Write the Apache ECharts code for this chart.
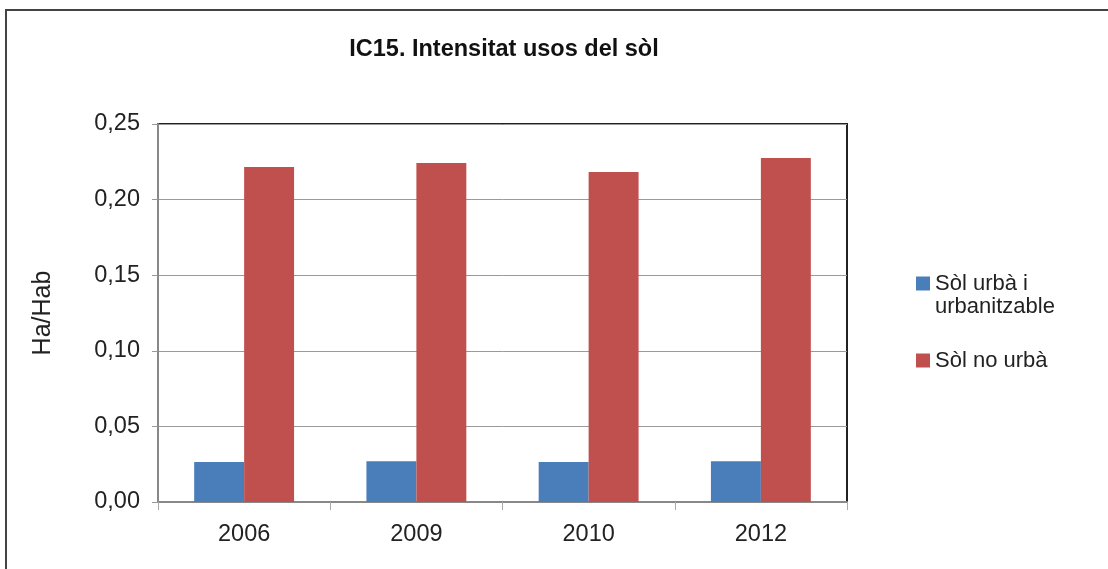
<!DOCTYPE html>
<html>
<head>
<meta charset="utf-8">
<script src="https://cdn.jsdelivr.net/npm/echarts@6/dist/echarts.min.js"></script>
<style>
  html, body { margin: 0; padding: 0; background: #fff; }
  #frame {
    position: absolute; left: 5px; top: 9px; width: 1120px; height: 580px;
    border: 2px solid #444; box-sizing: border-box;
  }
  #chart { position: absolute; left: 0; top: 0; width: 1108px; height: 569px; }
</style>
</head>
<body>
<div id="frame"></div>
<div id="chart"></div>
<script>
// dades
const years = ["2006", "2009", "2010", "2012"];
const urba = [0.0265, 0.027, 0.0265, 0.027];
const noUrba = [0.2216, 0.2242, 0.2183, 0.2275];
const urbaName = "Sòl urbà i\nurbanitzable";
const noUrbaName = "Sòl no urbà";

const chart = echarts.init(document.getElementById("chart"));
const font = "Liberation Sans, Arial, sans-serif";
const legendText = { fontSize: 22, color: "#222", lineHeight: 23 };

chart.setOption({
  animation: false,
  textStyle: { fontFamily: font },
  title: {
    text: "IC15. Intensitat usos del sòl",
    left: 499,
    top: 33,
    textAlign: "center",
    textStyle: { fontSize: 23.5, fontWeight: "bold", color: "#111", fontFamily: font },
  },
  legend: [
    {
      left: 916,
      top: 249,
      padding: 0,
      itemWidth: 14,
      itemHeight: 14,
      icon: "rect",
      textStyle: legendText,
      // línia buida al davant perquè el quadrat quedi a la primera línia
      formatter: (name) => "\n" + name,
      data: [urbaName],
    },
    {
      left: 916,
      top: 349,
      padding: 0,
      itemWidth: 14,
      itemHeight: 14,
      icon: "rect",
      textStyle: legendText,
      data: [noUrbaName],
    },
  ],
  grid: {
    left: 158,
    right: 261,
    top: 124,
    bottom: 67,
    show: true,
    borderColor: "#222",
    borderWidth: 2,
  },
  xAxis: {
    type: "category",
    data: years,
    axisLine: { lineStyle: { color: "#888", width: 2 } },
    axisTick: { show: true, alignWithLabel: false, length: 8, lineStyle: { color: "#aaa" } },
    axisLabel: { fontSize: 23.5, color: "#222", margin: 21 },
  },
  yAxis: {
    type: "value",
    min: 0,
    max: 0.25,
    interval: 0.05,
    name: "Ha/Hab",
    nameLocation: "middle",
    nameGap: 102,
    nameTextStyle: { fontSize: 25, color: "#222" },
    axisLine: { show: true, lineStyle: { color: "#888", width: 2 } },
    axisTick: { show: true, length: 6, lineStyle: { color: "#999" } },
    axisLabel: {
      fontSize: 23.5,
      color: "#222",
      margin: 18,
      formatter: (v) => v.toFixed(2).replace(".", ","),
    },
    splitLine: { lineStyle: { color: "#999", width: 1 } },
  },
  series: [
    {
      name: urbaName,
      type: "bar",
      data: urba,
      barGap: "0%",
      barCategoryGap: "42%",
      itemStyle: { color: "#4a7ebb" },
    },
    {
      name: noUrbaName,
      type: "bar",
      data: noUrba,
      barGap: "0%",
      barCategoryGap: "42%",
      itemStyle: { color: "#c0504d" },
    },
  ],
});
</script>
</body>
</html>
